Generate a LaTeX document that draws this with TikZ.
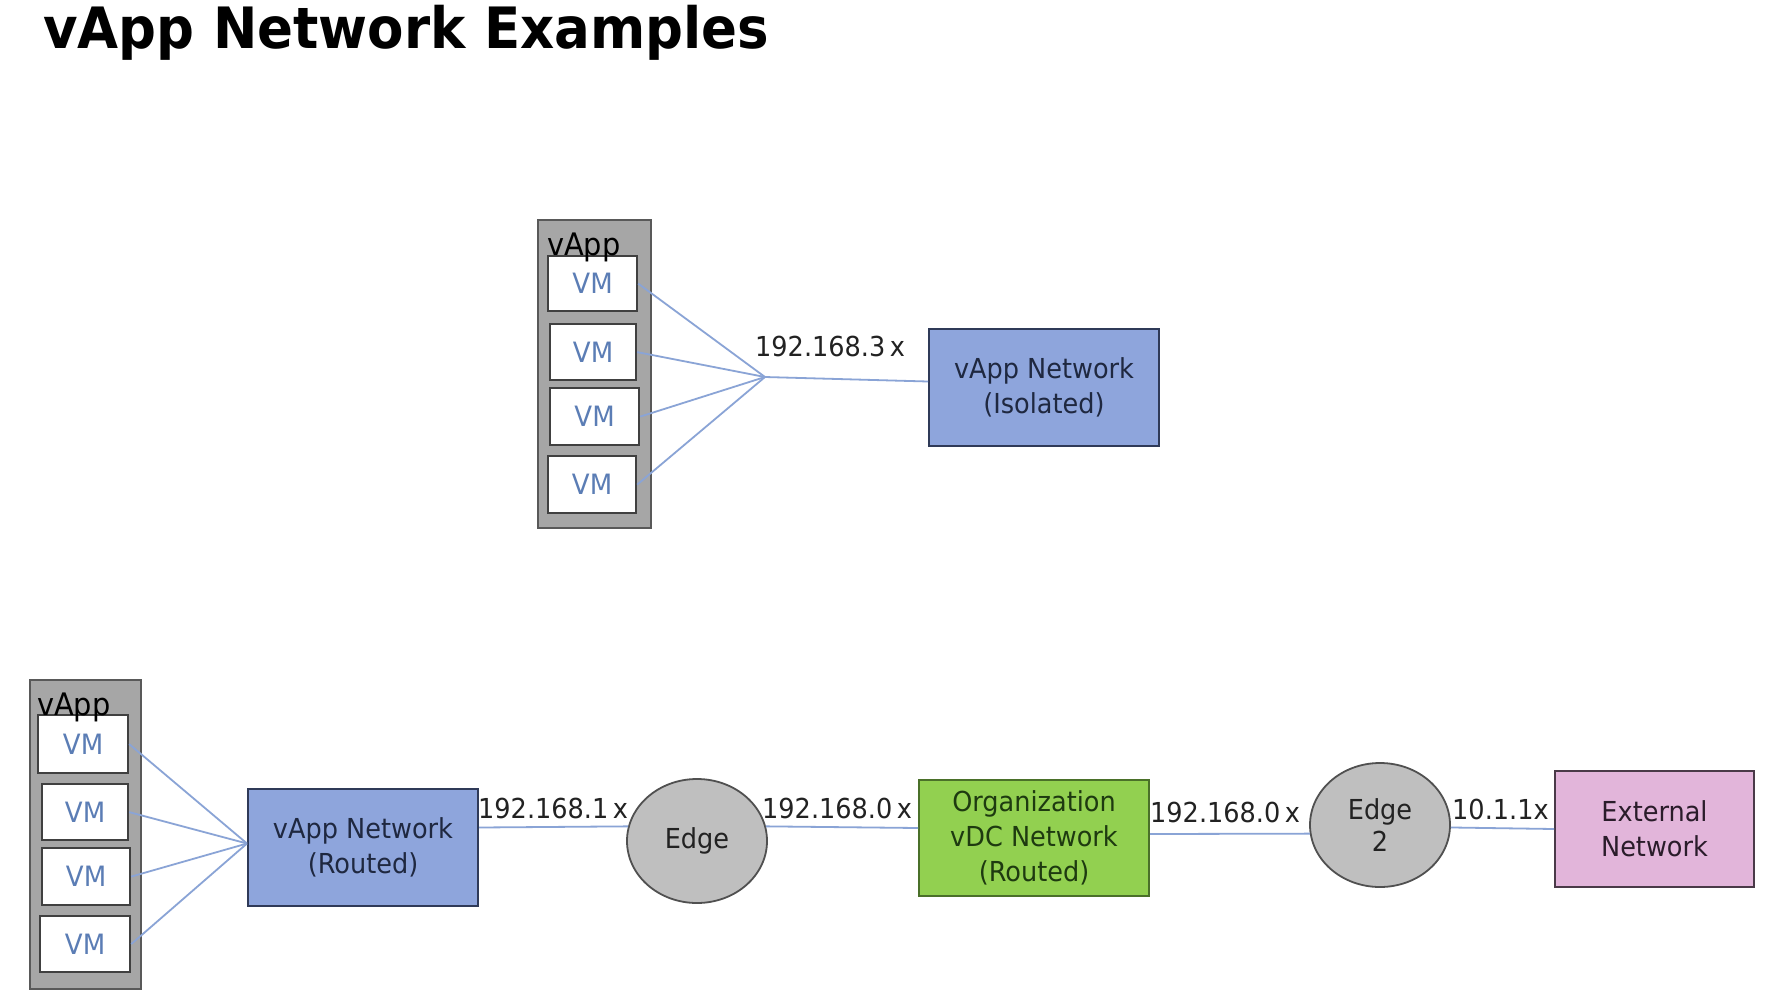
\documentclass[tikz,border=0pt]{standalone}
\usepackage{fontspec}
\setmainfont{DejaVu Sans}[FakeStretch=0.93]
\usetikzlibrary{shapes.geometric}
\definecolor{linec}{HTML}{8AA4D6}
\definecolor{contf}{HTML}{A6A6A6}
\definecolor{contb}{HTML}{595959}
\definecolor{vmb}{HTML}{404040}
\definecolor{vmtext}{HTML}{5B7DB5}
\definecolor{netf}{HTML}{8EA5DC}
\definecolor{netb}{HTML}{2F3A58}
\definecolor{nett}{HTML}{1F2840}
\definecolor{orgf}{HTML}{92D050}
\definecolor{orgb}{HTML}{4A7029}
\definecolor{orgt}{HTML}{1E3A10}
\definecolor{extf}{HTML}{E2B5DA}
\definecolor{extb}{HTML}{4A3A48}
\definecolor{extt}{HTML}{2A1C2A}
\definecolor{edgef}{HTML}{BFBFBF}
\definecolor{edgeb}{HTML}{505050}
\definecolor{lblt}{HTML}{222222}
\begin{document}
\begin{tikzpicture}[x=1pt,y=-1pt,
  conn/.style={draw=linec, line width=1.8pt},
  cont/.style={draw=contb, fill=contf, line width=2.2pt, anchor=north west, inner sep=0pt},
  vmbox/.style={draw=vmb, fill=white, line width=2.2pt, anchor=north west, inner sep=0pt,
    text=vmtext, font=\fontsize{28}{32}\selectfont},
  vapplbl/.style={anchor=base west, inner sep=0pt, font=\fontsize{31}{36}\selectfont},
  netbox/.style={draw=netb, fill=netf, line width=2pt, anchor=north west, inner sep=0pt,
    align=center, text=nett, minimum width=230, minimum height=117,
    font=\fontsize{27.5}{35}\selectfont},
  orgbox/.style={netbox, draw=orgb, fill=orgf, text=orgt},
  extbox/.style={netbox, draw=extb, fill=extf, text=extt},
  edgenode/.style={ellipse, draw=edgeb, fill=edgef, line width=1.8pt, inner sep=0pt,
    minimum width=140, minimum height=124, align=center, text=lblt,
    font=\fontsize{27.5}{32}\selectfont},
  iplbl/.style={anchor=base west, inner sep=0pt, text=lblt, font=\fontsize{27.5}{32}\selectfont}
]
\useasboundingbox (0,0) rectangle (1768,996);
\fill[white] (0,0) rectangle (1768,996);

% title
\node[anchor=base west, inner sep=0pt, font=\fontsize{57}{64}\selectfont\bfseries] (title) at (43,48) {vApp Network Examples};

% ---------- top example (isolated) ----------
\node[cont, minimum width=113, minimum height=308] (vappA) at (537,219) {};
\node[vmbox, minimum width=89, minimum height=55] (a1) at (547,255) {VM};
\node[vmbox, minimum width=86, minimum height=56] (a2) at (549,323) {VM};
\node[vmbox, minimum width=89, minimum height=57] (a3) at (549,387) {VM};
\node[vmbox, minimum width=88, minimum height=57] (a4) at (547,455) {VM};
\node[vapplbl] (vappAlbl) at (547,255) {vApp};

\coordinate (hubA) at (765,377);
\node[netbox] (iso) at (928,328) {vApp Network\\(Isolated)};
\node[iplbl] (ipA) at (755,356) {192.168.3\,x};

\foreach \v in {a1,a2,a3,a4} \draw[conn] (\v.east) -- (hubA);
\draw[conn] (hubA) -- ([yshift=6pt]iso.west);

% ---------- bottom example (routed) ----------
\node[cont, minimum width=111, minimum height=309] (vappB) at (29,679) {};
\node[vmbox, minimum width=90, minimum height=58] (b1) at (37,714) {VM};
\node[vmbox, minimum width=86, minimum height=56] (b2) at (41,783) {VM};
\node[vmbox, minimum width=88, minimum height=57] (b3) at (41,847) {VM};
\node[vmbox, minimum width=90, minimum height=56] (b4) at (39,915) {VM};
\node[vapplbl] (vappBlbl) at (37,715) {vApp};

\node[netbox] (routed) at (247,788) {vApp Network\\(Routed)};
\foreach \v in {b1,b2,b3,b4} \draw[conn] (\v.east) -- ([yshift=4pt]routed.west);

\node[edgenode] (edge1) at (697,841) {Edge};
\node[orgbox, minimum height=116] (org) at (918,779) {Organization\\vDC Network\\(Routed)};
\node[edgenode] (edge2) at (1380,825) {Edge\\2};
\node[extbox, minimum width=199, minimum height=116] (ext) at (1554,770) {External\\Network};

\draw[conn] ([yshift=20pt]routed.east) -- (edge1.168);
\draw[conn] (edge1.12) -- ([yshift=10pt]org.west);
\draw[conn] ([yshift=4pt]org.east) -- (edge2.187);
\draw[conn] (edge2.-2) -- (ext.west);

\node[iplbl] (ipB1) at (478,818) {192.168.1\,x};
\node[iplbl] (ipB2) at (762,818) {192.168.0\,x};
\node[iplbl] (ipB3) at (1150,822) {192.168.0\,x};
\node[iplbl] (ipB4) at (1452,819) {10.1.1x};
\end{tikzpicture}
\end{document}
